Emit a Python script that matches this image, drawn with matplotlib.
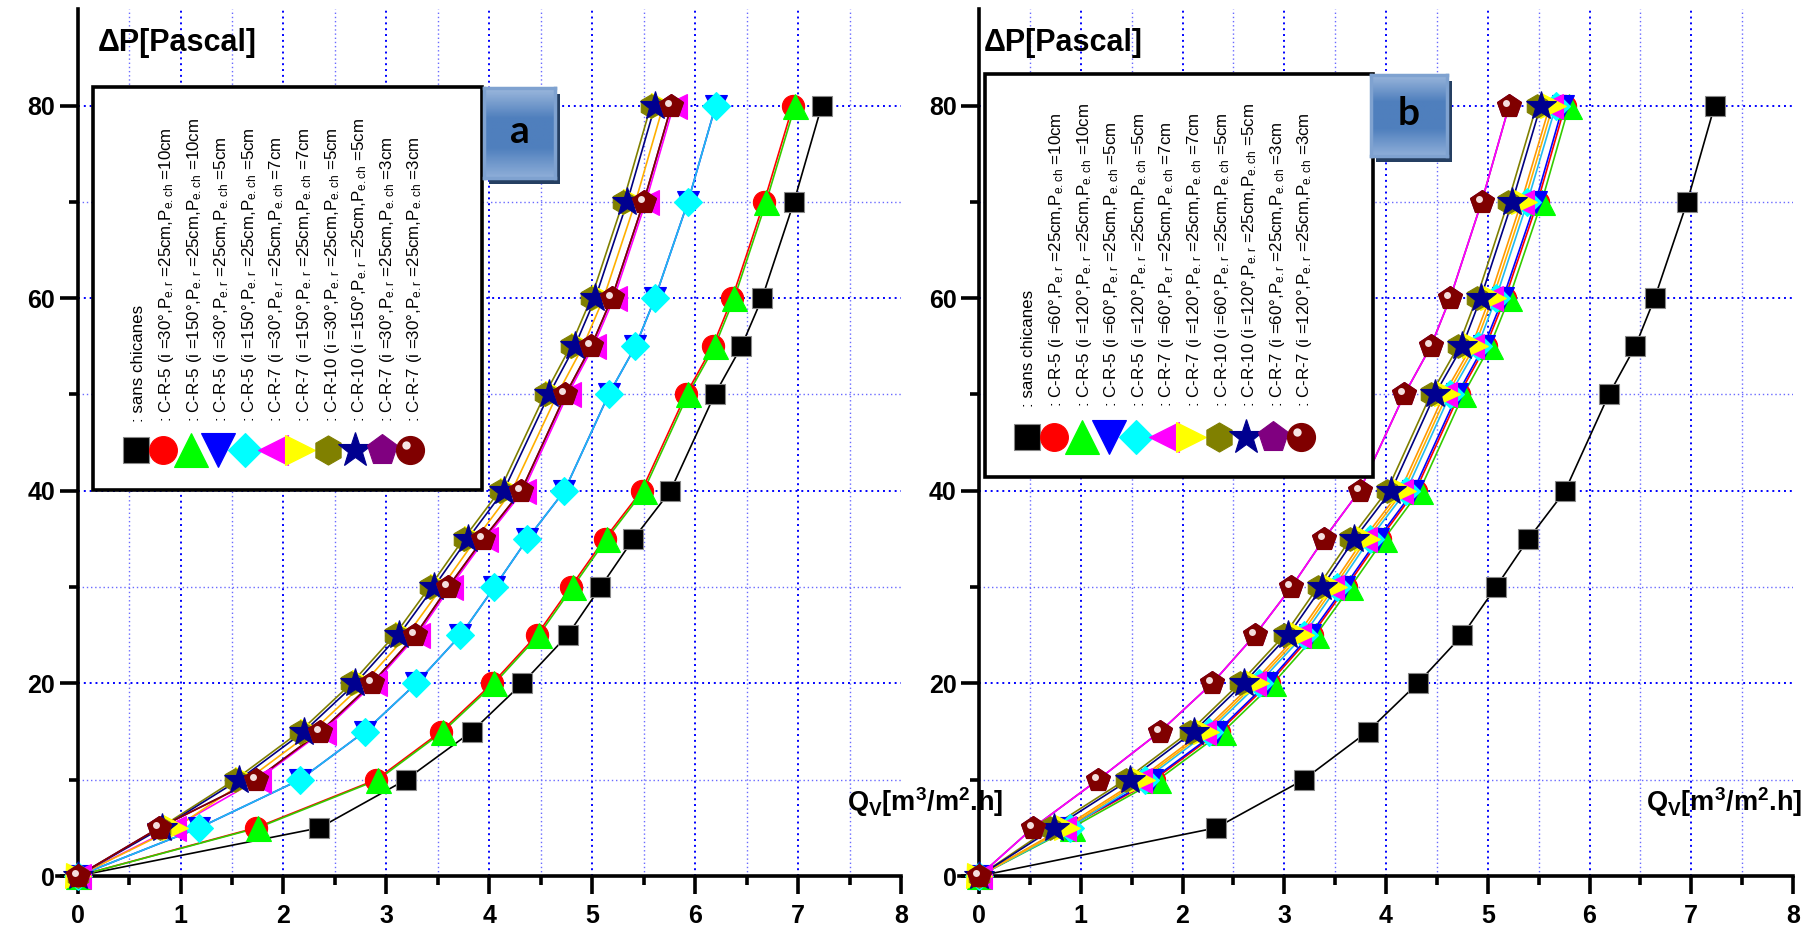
import numpy as np
import matplotlib
matplotlib.use("Agg")
import matplotlib.pyplot as plt
from matplotlib import font_manager
from matplotlib.lines import Line2D
from matplotlib.patches import Rectangle
from matplotlib.colors import LinearSegmentedColormap
from matplotlib.transforms import offset_copy

plt.rcParams['font.family'] = ['Liberation Sans', 'DejaVu Sans']
plt.rcParams['mathtext.fontset'] = 'custom'
plt.rcParams['mathtext.rm'] = 'Liberation Sans'
plt.rcParams['mathtext.default'] = 'regular'

# condensed face for the legend if the system has one
names = {f.name for f in font_manager.fontManager.ttflist}
if 'Liberation Sans Narrow' in names:
    leg_family, leg_size = ['Liberation Sans Narrow', 'Liberation Sans'], 14.8
else:
    leg_family, leg_size = ['Liberation Sans', 'DejaVu Sans'], 12.2

W, H = 1811, 930

# pressure drop levels (Pa)
dp = [0, 5, 10, 15, 20, 25, 30, 35, 40, 50, 55, 60, 70, 80]

# ---- panel a : Qv [m3/m2.h] ----
a_sans   = [0, 2.35, 3.19, 3.83, 4.32, 4.76, 5.08, 5.40, 5.76, 6.19, 6.45, 6.65, 6.96, 7.23]
a_r5_30_10  = [0, 1.73, 2.90, 3.53, 4.03, 4.46, 4.79, 5.12, 5.48, 5.91, 6.17, 6.36, 6.67, 6.95]
a_r5_150_10 = [0, 1.75, 2.92, 3.55, 4.05, 4.48, 4.81, 5.14, 5.50, 5.93, 6.19, 6.38, 6.69, 6.97]
a_r5_30_5   = [0, 1.18, 2.16, 2.79, 3.29, 3.72, 4.05, 4.37, 4.73, 5.16, 5.42, 5.61, 5.93, 6.20]
a_r5_150_5  = [0, 1.18, 2.16, 2.79, 3.29, 3.72, 4.05, 4.37, 4.73, 5.16, 5.42, 5.61, 5.93, 6.20]
a_r7_30_7   = [0, 0.93, 1.75, 2.38, 2.88, 3.30, 3.62, 3.96, 4.33, 4.76, 5.01, 5.21, 5.52, 5.79]
a_r7_150_7  = [0, 0.95, 1.65, 2.28, 2.78, 3.20, 3.54, 3.87, 4.22, 4.66, 4.91, 5.11, 5.42, 5.69]
a_r10_30_5  = [0, 0.80, 1.53, 2.16, 2.66, 3.08, 3.42, 3.75, 4.10, 4.54, 4.79, 4.99, 5.30, 5.57]
a_r10_150_5 = [0, 0.82, 1.57, 2.20, 2.70, 3.12, 3.46, 3.79, 4.14, 4.58, 4.83, 5.03, 5.34, 5.61]
a_r7_30_3   = [0, 0.79, 1.73, 2.36, 2.86, 3.28, 3.60, 3.94, 4.31, 4.74, 4.99, 5.19, 5.50, 5.77]
a_r7_30_3b  = [0, 0.79, 1.73, 2.36, 2.86, 3.28, 3.60, 3.94, 4.31, 4.74, 4.99, 5.19, 5.50, 5.77]

# ---- panel b ----
b_sans   = [0, 2.33, 3.19, 3.82, 4.31, 4.75, 5.08, 5.40, 5.76, 6.19, 6.45, 6.64, 6.96, 7.23]
b_r5_60_10  = [0, 0.87, 1.72, 2.36, 2.85, 3.27, 3.61, 3.94, 4.29, 4.72, 4.98, 5.17, 5.49, 5.76]
b_r5_120_10 = [0, 0.91, 1.76, 2.40, 2.89, 3.31, 3.65, 3.98, 4.33, 4.76, 5.02, 5.21, 5.53, 5.80]
b_r5_60_5   = [0, 0.85, 1.70, 2.34, 2.83, 3.25, 3.59, 3.92, 4.27, 4.70, 4.96, 5.15, 5.47, 5.74]
b_r5_120_5  = [0, 0.89, 1.63, 2.26, 2.75, 3.19, 3.52, 3.84, 4.20, 4.63, 4.90, 5.08, 5.39, 5.67]
b_r7_60_7   = [0, 0.83, 1.57, 2.20, 2.69, 3.13, 3.46, 3.78, 4.14, 4.57, 4.84, 5.02, 5.33, 5.61]
b_r7_120_7  = [0, 0.86, 1.60, 2.23, 2.72, 3.16, 3.49, 3.81, 4.17, 4.60, 4.87, 5.05, 5.36, 5.64]
b_r10_60_5  = [0, 0.70, 1.44, 2.07, 2.56, 3.00, 3.33, 3.65, 4.01, 4.44, 4.71, 4.89, 5.20, 5.48]
b_r10_120_5 = [0, 0.74, 1.48, 2.11, 2.60, 3.04, 3.37, 3.69, 4.05, 4.48, 4.75, 4.93, 5.24, 5.52]
b_r7_60_3   = [0, 0.53, 1.17, 1.78, 2.29, 2.71, 3.07, 3.39, 3.74, 4.18, 4.44, 4.63, 4.94, 5.21]
b_r7_120_3  = [0, 0.53, 1.17, 1.78, 2.29, 2.71, 3.07, 3.39, 3.74, 4.18, 4.44, 4.63, 4.94, 5.21]

labels_a = [": sans chicanes",
            r": C-R-5 (i =30°,P$_{e.r}$ =25cm,P$_{e.ch}$ =10cm",
            r": C-R-5 (i =150°,P$_{e.r}$ =25cm,P$_{e.ch}$ =10cm",
            r": C-R-5 (i =30°,P$_{e.r}$ =25cm,P$_{e.ch}$ =5cm",
            r": C-R-5 (i =150°,P$_{e.r}$ =25cm,P$_{e.ch}$ =5cm",
            r": C-R-7 (i =30°,P$_{e.r}$ =25cm,P$_{e.ch}$ =7cm",
            r": C-R-7 (i =150°,P$_{e.r}$ =25cm,P$_{e.ch}$ =7cm",
            r": C-R-10 (i =30°,P$_{e.r}$ =25cm,P$_{e.ch}$ =5cm",
            r": C-R-10 (i =150°,P$_{e.r}$ =25cm,P$_{e.ch}$ =5cm",
            r": C-R-7 (i =30°,P$_{e.r}$ =25cm,P$_{e.ch}$ =3cm",
            r": C-R-7 (i =30°,P$_{e.r}$ =25cm,P$_{e.ch}$ =3cm"]
labels_b = [": sans chicanes",
            r": C-R-5 (i =60°,P$_{e.r}$ =25cm,P$_{e.ch}$ =10cm",
            r": C-R-5 (i =120°,P$_{e.r}$ =25cm,P$_{e.ch}$ =10cm",
            r": C-R-5 (i =60°,P$_{e.r}$ =25cm,P$_{e.ch}$ =5cm",
            r": C-R-5 (i =120°,P$_{e.r}$ =25cm,P$_{e.ch}$ =5cm",
            r": C-R-7 (i =60°,P$_{e.r}$ =25cm,P$_{e.ch}$ =7cm",
            r": C-R-7 (i =120°,P$_{e.r}$ =25cm,P$_{e.ch}$ =7cm",
            r": C-R-10 (i =60°,P$_{e.r}$ =25cm,P$_{e.ch}$ =5cm",
            r": C-R-10 (i =120°,P$_{e.r}$ =25cm,P$_{e.ch}$ =5cm",
            r": C-R-7 (i =60°,P$_{e.r}$ =25cm,P$_{e.ch}$ =3cm",
            r": C-R-7 (i =120°,P$_{e.r}$ =25cm,P$_{e.ch}$ =3cm"]

series_a = [a_sans, a_r5_30_10, a_r5_150_10, a_r5_30_5, a_r5_150_5, a_r7_30_7,
            a_r7_150_7, a_r10_30_5, a_r10_150_5, a_r7_30_3, a_r7_30_3b]
series_b = [b_sans, b_r5_60_10, b_r5_120_10, b_r5_60_5, b_r5_120_5, b_r7_60_7,
            b_r7_120_7, b_r10_60_5, b_r10_120_5, b_r7_60_3, b_r7_120_3]

# marker, face colour, plot size, legend size
marks = [('s', 'black', 14, 19), ('o', 'red', 16, 20), ('^', '#00ff00', 18, 24),
         ('v', 'blue', 16, 24), ('D', 'cyan', 14, 17), ('<', 'magenta', 18, 22),
         ('>', 'yellow', 18, 22), ('h', '#808000', 17, 21), ('*', '#000090', 22, 26),
         ('p', '#800080', 18, 23), ('p', '#800000', 18, 21)]
lines_a = ['black', 'red', '#33cc00', 'blue', '#22bbee', 'magenta', '#ffb000',
           '#808000', '#000080', '#800080', '#800000']
lines_b = ['black', 'red', '#33cc00', 'blue', '#22bbee', '#ff9900', '#ffb000',
           '#808000', '#000080', '#800080', '#ff00ff']

fig = plt.figure(figsize=(W / 100, H / 100), dpi=100)


def fx(x):
    return x / W


def fy(y):
    return 1 - y / H


def panel(rect, series, line_cols):
    ax = fig.add_axes(rect)
    ax.set_xlim(-0.2, 8)
    ax.set_ylim(0, 90)
    for s in ['top', 'right']:
        ax.spines[s].set_visible(False)
    ax.spines['left'].set_position(('data', 0))
    ax.spines['left'].set_linewidth(2.6)
    ax.spines['bottom'].set_linewidth(2.6)
    ax.set_xticks(range(9))
    ax.set_xticks(np.arange(0.5, 8, 1), minor=True)
    ax.set_yticks([0, 20, 40, 60, 80])
    ax.set_yticks([10, 30, 50, 70], minor=True)
    ax.tick_params(which='major', direction='out', length=13, width=2.6,
                   labelsize=18, pad=7)
    ax.tick_params(which='minor', direction='out', length=6.5, width=2.6)
    ax.tick_params(axis='y', which='major', pad=3)
    for lbl in ax.get_xticklabels() + ax.get_yticklabels():
        lbl.set_fontweight('bold')

    # dotted grid
    ax.vlines(np.arange(1, 8), 0, 90, colors='blue', linestyles=(0, (1, 2)), lw=1.4, zorder=1)
    ax.vlines(np.arange(0.5, 8, 1), 0, 90, colors='#6a6aff', linestyles=(0, (1, 2)), lw=1.0, zorder=1)
    ax.hlines([20, 40, 60, 80], 0, 8, colors='blue', linestyles=(0, (1, 2)), lw=1.4, zorder=1)
    ax.hlines([10, 30, 50, 70], 0, 8, colors='#6a6aff', linestyles=(0, (1, 2)), lw=1.0, zorder=1)

    for i, xs in enumerate(series):
        ax.plot(xs, dp, color=line_cols[i], lw=1.2, zorder=2, clip_on=False)
    for i, xs in enumerate(series):
        m, c, ms, _ = marks[i]
        ec = '#888888' if i == 0 else c
        ax.plot(xs, dp, ls='none', marker=m, ms=ms, mfc=c, mec=ec, mew=0.8,
                zorder=3 + 0.1 * i, clip_on=False)
    # glossy highlight on the last (sphere) series
    hl = offset_copy(ax.transData, fig=fig, x=-3, y=3, units='dots')
    ax.plot(series[-1], dp, ls='none', marker='o', ms=5, mfc='#f4dede', mec='none',
            transform=hl, zorder=4.5, clip_on=False)
    return ax


ax_a = panel([fx(57), 54 / H, 844 / W, 866.7 / H], series_a, lines_a)
ax_b = panel([fx(958.7), 54 / H, 834.3 / W, 866.7 / H], series_b, lines_b)


def legend_box(x0, y0, x1, y1, labels, mk_y, mk_x0, txt_x0, txt_y):
    fig.add_artist(Rectangle((fx(x0), fy(y1)), (x1 - x0) / W, (y1 - y0) / H,
                             transform=fig.transFigure, fc='white', ec='black',
                             lw=2.6, zorder=5))
    for k, lab in enumerate(labels):
        fig.text(fx(txt_x0 + 27.6 * k), fy(txt_y), lab, rotation=90,
                 rotation_mode='anchor', ha='left', va='baseline',
                 fontsize=leg_size, family=leg_family, zorder=6)
        m, c, _, ms = marks[k]
        xm = fx(mk_x0 + 27.4 * k)
        if k < 10:
            fig.add_artist(Line2D([xm], [fy(mk_y)], transform=fig.transFigure, marker=m,
                                  ms=ms, mfc=c, mec=c if k else '#888888', mew=0.8,
                                  zorder=6))
    xm = fx(mk_x0 + 27.4 * 10)
    fig.add_artist(Line2D([xm], [fy(mk_y)], transform=fig.transFigure, marker='o',
                          ms=20, mfc='#800000', mec='#800000', zorder=6.5))
    fig.add_artist(Line2D([xm - 4 / W], [fy(mk_y) + 5 / H], transform=fig.transFigure,
                          marker='o', ms=6, mfc='#f6e4e4', mec='none', zorder=6.6))


legend_box(93, 87, 482, 490, labels_a, 450, 135.7, 143.3, 422)
legend_box(985, 74, 1373, 477, labels_b, 437, 1026.7, 1033.3, 407)

cmap = LinearSegmentedColormap.from_list('bd', ['#9bb7dc', '#4f7fbd', '#4f7fbd', '#8eaed8'])
grad = np.linspace(0, 1, 64).reshape(-1, 1)


def badge(x0, y0, x1, y1, letter):
    fig.add_artist(Rectangle((fx(x0 + 5), fy(y1 + 6)), (x1 - x0) / W, (y1 - y0) / H,
                             transform=fig.transFigure, fc='#253f62', ec='none', zorder=7))
    bx = fig.add_axes([fx(x0), fy(y1), (x1 - x0) / W, (y1 - y0) / H], zorder=8)
    bx.imshow(grad, aspect='auto', cmap=cmap, extent=[0, 1, 0, 1])
    bx.set_xticks([])
    bx.set_yticks([])
    for s in bx.spines.values():
        s.set_color('#7fa2d0')
        s.set_linewidth(2.5)
    bx.text(0.5, 0.52, letter, ha='center', va='center', fontsize=28,
            fontweight='bold', family=['Lato', 'DejaVu Sans'], color='black')


badge(484, 88, 555, 178, 'a')
badge(1371, 75, 1447, 156, 'b')

for x in (98, 984):
    fig.text(fx(x), fy(43), 'ΔP[Pascal]', fontsize=22, fontweight='bold',
             ha='left', va='center', zorder=9)
for x in (847, 1646):
    fig.text(fx(x), fy(802), r'Q$_{V}$[m$^{3}$/m$^{2}$.h]', fontsize=19.5,
             fontweight='bold', ha='left', va='center', zorder=9)

fig.savefig('out.png', dpi=100, facecolor='white')
